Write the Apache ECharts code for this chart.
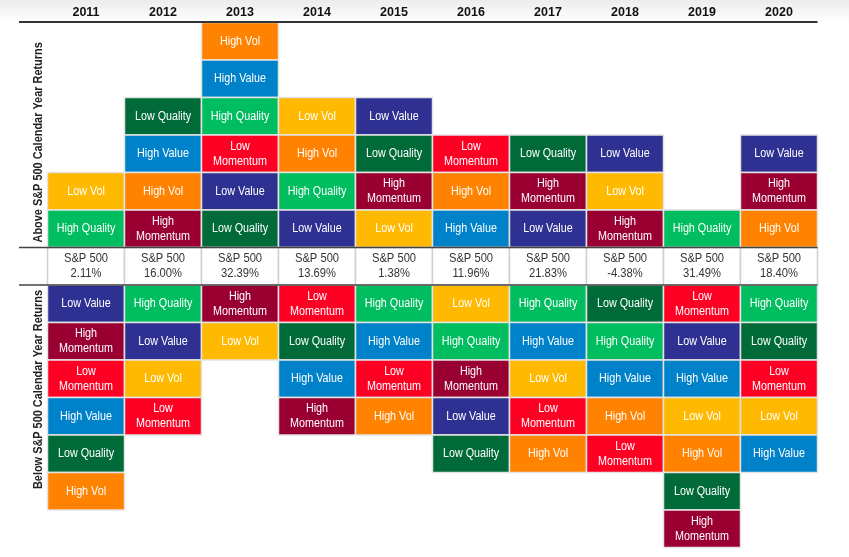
<!DOCTYPE html>
<html>
<head>
<meta charset="utf-8">
<script src="https://cdn.jsdelivr.net/npm/echarts@6/dist/echarts.min.js"></script>
<style>
html,body{margin:0;padding:0;background:#fff;}
#chart{width:849px;height:557px;}
</style>
</head>
<body>
<div id="chart"></div>
<script>
const years = ['2011','2012','2013','2014','2015','2016','2017','2018','2019','2020'];
// factors that beat the S&P 500, listed top to bottom
const above2011 = ['Low Vol','High Quality'];
const above2012 = ['Low Quality','High Value','High Vol','High Momentum'];
const above2013 = ['High Vol','High Value','High Quality','Low Momentum','Low Value','Low Quality'];
const above2014 = ['Low Vol','High Vol','High Quality','Low Value'];
const above2015 = ['Low Value','Low Quality','High Momentum','Low Vol'];
const above2016 = ['Low Momentum','High Vol','High Value'];
const above2017 = ['Low Quality','High Momentum','Low Value'];
const above2018 = ['Low Value','Low Vol','High Momentum'];
const above2019 = ['High Quality'];
const above2020 = ['Low Value','High Momentum','High Vol'];
// factors that trailed the S&P 500, listed top to bottom
const below2011 = ['Low Value','High Momentum','Low Momentum','High Value','Low Quality','High Vol'];
const below2012 = ['High Quality','Low Value','Low Vol','Low Momentum'];
const below2013 = ['High Momentum','Low Vol'];
const below2014 = ['Low Momentum','Low Quality','High Value','High Momentum'];
const below2015 = ['High Quality','High Value','Low Momentum','High Vol'];
const below2016 = ['Low Vol','High Quality','High Momentum','Low Value','Low Quality'];
const below2017 = ['High Quality','High Value','Low Vol','Low Momentum','High Vol'];
const below2018 = ['Low Quality','High Quality','High Value','High Vol','Low Momentum'];
const below2019 = ['Low Momentum','Low Value','High Value','Low Vol','High Vol','Low Quality','High Momentum'];
const below2020 = ['High Quality','Low Quality','Low Momentum','Low Vol','High Value'];
const spReturns = ['2.11%','16.00%','32.39%','13.69%','1.38%','11.96%','21.83%','-4.38%','31.49%','18.40%'];

const aboveLists = [above2011,above2012,above2013,above2014,above2015,above2016,above2017,above2018,above2019,above2020];
const belowLists = [below2011,below2012,below2013,below2014,below2015,below2016,below2017,below2018,below2019,below2020];

const factorColors = {
  'High Vol':'#FF8200',
  'High Value':'#0082CA',
  'Low Quality':'#006B39',
  'High Quality':'#00BE5F',
  'Low Vol':'#FFB900',
  'Low Value':'#2E3192',
  'Low Momentum':'#FF0025',
  'High Momentum':'#990031'
};

const rows = ['A6','A5','A4','A3','A2','A1','SP','B1','B2','B3','B4','B5','B6','B7'];
const FONT = '"Liberation Sans",Arial,Helvetica,sans-serif';
const NARROW = 0.86;

const cellData = [];
years.forEach((yr, i) => {
  const a = aboveLists[i];
  a.forEach((f, k) => cellData.push([yr, 'A' + (a.length - k), f]));
  cellData.push([yr, 'SP', 'S&P 500\n' + spReturns[i]]);
  belowLists[i].forEach((f, k) => cellData.push([yr, 'B' + (k + 1), f]));
});

function renderItem(params, api) {
  const d = cellData[params.dataIndex];
  const c = api.coord([api.value(0), api.value(1)]);
  const s = api.size([1, 1]);
  const isSP = d[1] === 'SP';
  const label = d[2];
  const text = isSP ? label : label.replace(' Momentum', '\nMomentum');
  return {
    type: 'group',
    children: [
      {
        type: 'rect',
        shape: { x: c[0] - s[0] / 2, y: c[1] - s[1] / 2, width: s[0], height: s[1] },
        style: { fill: isSP ? '#ffffff' : factorColors[label], stroke: isSP ? '#d0d0d0' : '#e4e4e4', lineWidth: 1.5 }
      },
      {
        type: 'text',
        x: c[0], y: c[1], scaleX: NARROW,
        style: {
          text: text, fill: isSP ? '#333333' : '#ffffff',
          font: (isSP ? '13px ' : '12.5px ') + FONT, align: 'center', verticalAlign: 'middle', lineHeight: 15
        }
      }
    ]
  };
}

const chart = echarts.init(document.getElementById('chart'), null, { renderer: 'canvas' });
chart.setOption({
  animation: false,
  backgroundColor: '#ffffff',
  grid: { left: 47.5, right: 31.5, top: 22.5, bottom: 9.5 },
  xAxis: {
    type: 'category', data: years, position: 'top',
    axisLine: { show: false }, axisTick: { show: false }, splitLine: { show: false },
    axisLabel: { margin: 3, fontFamily: FONT, fontWeight: 'bold', fontSize: 12.5, color: '#111' }
  },
  yAxis: {
    type: 'category', data: rows, inverse: true, show: false
  },
  series: [{
    type: 'custom',
    renderItem: renderItem,
    encode: { x: 0, y: 1 },
    data: cellData.map(d => [d[0], d[1]])
  }]
});

// decorations positioned from the axes
const g = chart.getModel().getComponent('grid').coordinateSystem.getRect();
const spCenter = chart.convertToPixel({ gridIndex: 0 }, [years[0], 'SP'])[1];
const rowH = g.height / rows.length;
const lx = g.x - 28.5, rx = g.x + g.width;
chart.setOption({
  graphic: [
    { type: 'rect', z: -10, silent: true, shape: { x: 0, y: 0, width: 849, height: g.y },
      style: { fill: new echarts.graphic.LinearGradient(0, 0, 0, 1, [{ offset: 0, color: '#ececec' }, { offset: 1, color: '#ffffff' }]) } },
    { type: 'line', z: 100, shape: { x1: lx, y1: g.y - 0.5, x2: rx, y2: g.y - 0.5 }, style: { stroke: '#333', lineWidth: 2 } },
    { type: 'line', z: 100, shape: { x1: lx, y1: spCenter - rowH / 2, x2: rx, y2: spCenter - rowH / 2 }, style: { stroke: '#444', lineWidth: 1.5 } },
    { type: 'line', z: 100, shape: { x1: lx, y1: spCenter + rowH / 2, x2: rx, y2: spCenter + rowH / 2 }, style: { stroke: '#444', lineWidth: 1.5 } },
    { type: 'text', z: 100, x: g.x - 9.5, y: spCenter - rowH / 2 - 5, rotation: Math.PI / 2, scaleX: 0.84,
      style: { text: 'Above S&P 500 Calendar Year Returns', font: 'bold 13px ' + FONT, fill: '#222', align: 'left', verticalAlign: 'middle' } },
    { type: 'text', z: 100, x: g.x - 9.5, y: spCenter + rowH / 2 + 5, rotation: Math.PI / 2, scaleX: 0.84,
      style: { text: 'Below S&P 500 Calendar Year Returns', font: 'bold 13px ' + FONT, fill: '#222', align: 'right', verticalAlign: 'middle' } }
  ]
});
</script>
</body>
</html>
